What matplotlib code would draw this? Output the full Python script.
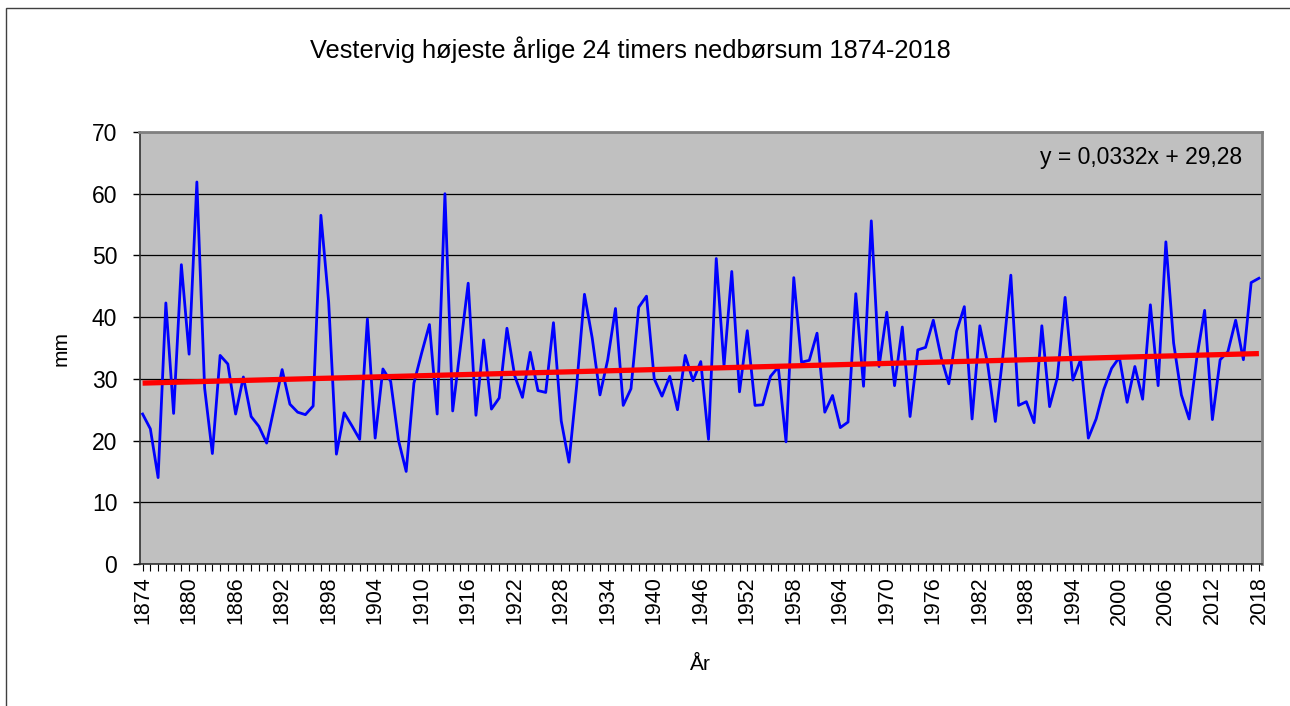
import matplotlib as mpl
import matplotlib.pyplot as plt
from matplotlib.patches import Rectangle
from matplotlib.ticker import MultipleLocator
import numpy as np

mpl.rcParams['font.family'] = ['Liberation Sans', 'DejaVu Sans']

# data (mm, 1874-2018)
years = np.arange(1874, 2019)
values = [
    24.3, 21.9, 14.0, 42.3, 24.4, 48.5, 34.0, 61.9, 28.5, 17.9,   # 1874-1883
    33.8, 32.4, 24.3, 30.3, 23.9, 22.3, 19.6, 25.5, 31.5, 25.9,   # 1884-1893
    24.6, 24.2, 25.6, 56.5, 42.5, 17.8, 24.5, 22.4, 20.2, 39.7,   # 1894-1903
    20.4, 31.6, 29.6, 20.1, 15.0, 29.3, 34.2, 38.8, 24.3, 60.0,   # 1904-1913
    24.8, 35.2, 45.5, 24.1, 36.3, 25.1, 26.9, 38.2, 30.5, 27.0,   # 1914-1923
    34.3, 28.1, 27.8, 39.1, 23.2, 16.5, 29.0, 43.7, 36.6, 27.4,   # 1924-1933
    33.1, 41.4, 25.7, 28.4, 41.6, 43.4, 30.0, 27.2, 30.4, 25.0,   # 1934-1943
    33.8, 29.7, 32.8, 20.2, 49.5, 32.1, 47.4, 27.9, 37.8, 25.7,   # 1944-1953
    25.8, 30.4, 31.9, 19.8, 46.4, 32.7, 33.0, 37.4, 24.6, 27.3,   # 1954-1963
    22.1, 23.0, 43.8, 28.8, 55.6, 32.0, 40.8, 28.9, 38.4, 23.9,   # 1964-1973
    34.7, 35.1, 39.5, 33.5, 29.2, 37.7, 41.7, 23.5, 38.6, 32.5,   # 1974-1983
    23.1, 34.0, 46.8, 25.7, 26.3, 22.9, 38.6, 25.5, 30.2, 43.2,   # 1984-1993
    29.8, 33.1, 20.4, 23.5, 28.3, 31.7, 33.5, 26.2, 32.0, 26.7,   # 1994-2003
    42.0, 28.9, 52.2, 35.8, 27.4, 23.5, 33.5, 41.1, 23.4, 33.1,   # 2004-2013
    34.4, 39.5, 33.1, 45.6, 46.3,                                 # 2014-2018
]
trend_slope = 0.0332
trend_intercept = 29.28
title = 'Vestervig højeste årlige 24 timers nedbørsum 1874-2018'

W, H = 1290, 706
fig = plt.figure(figsize=(W / 100, H / 100), dpi=100)

# outer chart frame (only top and left edges visible in the image)
fig.patches.append(Rectangle((6 / W, -0.05), 1.1, 1 - 8 / H + 0.05, transform=fig.transFigure,
                             fill=False, edgecolor='#404040', linewidth=1.0))

ax = fig.add_axes([139.5 / W, 1 - 564 / H, (1262 - 139.5) / W, (564 - 132) / H])
ax.set_facecolor('#C0C0C0')

idx = np.arange(1, len(years) + 1)
trend = trend_slope * idx + trend_intercept

ax.plot(years, values, color='#0000FF', linewidth=2.0, zorder=3)
ax.plot(years, trend, color='#FF0000', linewidth=3.8, solid_capstyle='butt', zorder=4)

ax.set_xlim(1873.6, 2018.4)
ax.set_ylim(0, 70)
ax.set_yticks(range(0, 71, 10))
ax.xaxis.set_minor_locator(MultipleLocator(1))
ax.set_xticks(range(1874, 2019, 6))
ax.set_xticklabels([str(y) for y in range(1874, 2019, 6)], rotation=90, fontsize=15.5)
ax.tick_params(axis='y', labelsize=16.5, length=5, width=1, pad=11)
ax.tick_params(axis='x', which='both', length=5, width=0.8, direction='out', pad=4)
ax.grid(axis='y', color='black', linewidth=0.9, zorder=1)
ax.set_axisbelow(True)

for s in ['top', 'right']:
    ax.spines[s].set_color('#808080')
    ax.spines[s].set_linewidth(2.0)
for s in ['left', 'bottom']:
    ax.spines[s].set_color('#303030')
    ax.spines[s].set_linewidth(1.2)

ax.set_ylabel('mm', fontsize=15, labelpad=15)
ax.set_xlabel('År', fontsize=15, labelpad=22)

ax.text(0.982, 0.94, 'y = 0,0332x + 29,28', transform=ax.transAxes, ha='right', va='center',
        fontsize=16.5)
fig.text(630 / W, 1 - 50 / H, title, ha='center', va='center', fontsize=18.3)

fig.savefig('out.png', dpi=100)
